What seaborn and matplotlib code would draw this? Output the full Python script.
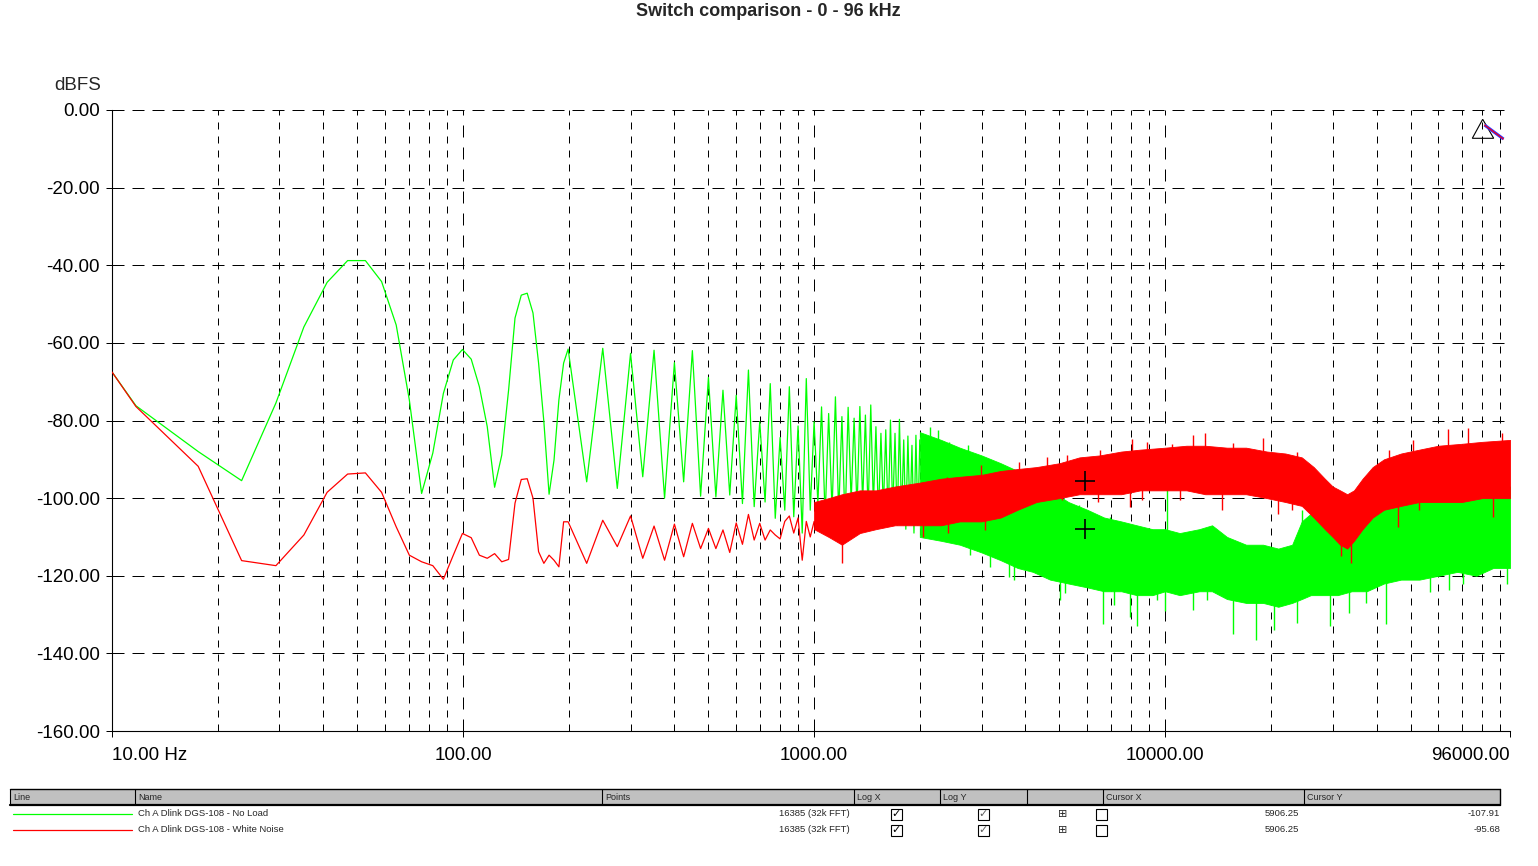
import numpy as np
import pandas as pd
import matplotlib
matplotlib.use("Agg")
import matplotlib.pyplot as plt
from matplotlib.patches import Rectangle, Polygon
from matplotlib.ticker import FixedLocator, NullFormatter
import seaborn as sns

# values (Hz / dBFS)
green_freq = [10, 11.7, 17.6, 23.4, 29.3, 35.2, 41.0, 46.9, 52.7, 58.6, 64.5, 70.3,
              76.2, 82.0, 87.9, 93.8, 99.6, 105.5, 111.3, 117.2, 123.0, 128.9, 134.8,
              140.6, 146.5, 152.3, 158.2, 164.1, 169.9, 175.8, 181.6, 187.5, 193.4, 199.2,
              225, 250, 275, 300, 325, 350, 375, 400, 425, 450, 475, 500, 525, 550,
              575, 600, 625, 650, 675, 700, 725, 750, 775, 800, 825, 850, 875, 900,
              925, 950, 975, 1000, 1025, 1050, 1075, 1100, 1125, 1150, 1175, 1200,
              1225, 1250, 1275, 1300, 1325, 1350, 1375, 1400, 1425, 1450, 1475, 1500,
              1525, 1550, 1575, 1600, 1625, 1650, 1675, 1700, 1725, 1750, 1775, 1800,
              1825, 1850, 1875, 1900, 1925, 1950, 1975, 2000]
green_db = [-67.5, -76.2, -88.0, -95.5, -75.5, -55.9, -44.4, -38.8, -38.8, -44.2, -55.4, -74.7,
            -98.8, -88.4, -73.0, -64.4, -61.7, -64.2, -71.3, -81.6, -97.2, -88.9, -72.2,
            -53.6, -47.7, -47.2, -52.3, -65.2, -80.3, -99.0, -90.2, -74.7, -65.2, -61.6,
            -95.8, -61.4, -97.5, -62.7, -94.5, -61.9, -100.0, -65.1, -95.8, -62.0, -99.5, -68.9,
            -99.7, -72.2, -99.2, -73.5, -101.4, -67.0, -102.2, -80.3, -101.0, -70.5, -105.2, -84.4,
            -103.1, -71.3, -104.8, -81.4, -109.0, -69.2, -103.1, -80.3, -101.4, -76.5, -105.0, -78.2,
            -103.4, -73.9, -104.0, -79.0, -107.0, -76.6, -101.0, -79.4, -103.1, -76.4, -101.4, -78.6,
            -104.0, -76.0, -101.9, -81.6, -105.0, -83.3, -103.0, -82.4, -106.0, -79.9, -104.0, -83.3,
            -107.0, -79.7, -105.0, -85.0, -108.0, -84.0, -106.0, -86.4, -109.0, -83.8, -107.0, -85.0]

red_freq = [10, 11.7, 17.6, 23.4, 29.3, 35.2, 41.0, 46.9, 52.7, 58.6, 64.5, 70.3,
            76.2, 82.0, 87.9, 93.8, 99.6, 105.5, 111.3, 117.2, 123.0, 128.9, 134.8,
            140.6, 146.5, 152.3, 158.2, 164.1, 169.9, 175.8, 181.6, 187.5, 193.4, 199.2,
            225, 250, 275, 300, 325, 350, 375, 400, 425, 450, 475, 500, 525, 550,
            575, 600, 625, 650, 675, 700, 725, 750, 775, 800, 825, 850, 875, 900,
            925, 950, 975, 1000]
red_db = [-67.5, -76.4, -91.8, -116.1, -117.4, -109.5, -98.5, -93.8, -93.5, -98.5, -107.4, -114.7,
          -116.4, -117.4, -120.9, -114.7, -109.1, -110.2, -114.7, -115.5, -114.3, -116.4, -115.8,
          -101.3, -95.2, -95.0, -100.0, -113.8, -116.8, -114.7, -116.0, -117.7, -106.1, -106.1,
          -116.8, -105.7, -112.5, -104.6, -115.5, -107.2, -116.0, -106.7, -115.1, -106.5, -113.0, -107.8,
          -113.0, -108.2, -114.0, -106.4, -111.9, -104.2, -110.8, -106.5, -110.8, -108.2, -109.5, -110.5,
          -106.0, -104.6, -109.0, -105.1, -116.0, -106.0, -110.0, -106.0]

# dense noise region: lower / upper envelope of the solid part
green_band_freq = [2000, 2300, 2600, 3000, 3400, 3800, 4200, 4700, 5300, 6000, 6700, 7500, 8300,
                   9200, 10000, 11000, 12500, 13600, 15000, 17000, 19000, 21000, 23000, 24500,
                   26000, 28000, 31000, 34000, 37500, 42000, 47000, 53000, 60000, 68000, 77000,
                   86000, 96000]
green_band_lo = [-110, -111, -112, -114, -116, -118, -119, -121, -122, -123, -124, -124, -125,
                 -125, -124, -125, -124, -124, -126, -127, -127, -128, -127, -126,
                 -125, -125, -125, -124, -124, -122, -121, -121, -120, -119, -120,
                 -118, -118]
green_band_hi = [-83, -85, -87, -89, -91, -93, -95, -98, -101, -103, -105, -106, -107,
                 -108, -108, -109, -108, -107, -110, -112, -112, -113, -112, -106,
                 -104, -105, -106, -104, -103, -102, -101, -100, -99, -99, -98,
                 -97, -97]

red_band_freq = [1000, 1100, 1200, 1350, 1500, 1700, 2000, 2300, 2600, 3000, 3400, 3800, 4300,
                 5000, 5700, 6500, 7500, 8500, 10000, 11500, 13000, 15000, 17000, 19500, 22000,
                 24500, 26500, 28500, 30000, 31500, 33000, 34500, 36500, 39000, 42000, 47000,
                 53000, 60000, 70000, 80000, 96000]
red_band_lo = [-108, -110, -112, -109, -108, -107, -107, -107, -106, -106, -105, -103, -101,
               -100, -99, -99, -99, -98, -98, -98, -99, -99, -99, -100, -101,
               -102, -105, -108, -110, -112, -113, -111, -108, -105, -103, -102,
               -101, -101, -101, -100, -100]
red_band_hi = [-101, -100, -99, -98, -98, -97, -96, -95, -94.5, -94, -93, -92.5, -92,
               -91, -89.5, -89, -88, -87.5, -87, -86.5, -86.5, -87, -87, -88, -88.5,
               -89.5, -92, -95, -97, -98, -99, -98, -95, -92, -90, -88.5,
               -87.5, -86.5, -86, -85.5, -85]

# single spikes sticking out of the bands (freq, base, tip)
green_spike_freq = [2140, 2250, 2420, 2750, 2780, 2990, 3160, 3330, 3600, 3700, 3780, 4370,
                    5020, 5200, 5680, 6670, 6950, 7130, 7950, 8340, 8860, 9460, 10000, 10100,
                    12040, 13200, 13600, 15600, 18200, 20400, 23700, 24500, 27800, 29400,
                    33300, 37300, 40000, 42500, 55400, 56900, 64300, 68000, 70500, 86000, 94000]
green_spike_from = [-105, -105, -106, -108, -100, -105, -105, -108, -108, -110, -110, -112,
                    -115, -115, -115, -118, -118, -118, -118, -118, -118, -118, -118, -115,
                    -118, -118, -118, -120, -120, -120, -120, -115, -115, -118,
                    -118, -115, -112, -115, -110, -112, -110, -108, -110, -108, -108]
green_spike_to = [-81.6, -82.4, -85.5, -86.3, -114.7, -90.6, -117.7, -92.4, -120.3, -121.1, -96.0, -98.4,
                  -126.3, -124.5, -101.8, -132.5, -104.8, -127.6, -130.6, -133.0, -108.7, -126.3, -129.0, -96.0,
                  -128.9, -126.3, -107.4, -135.0, -136.6, -134.0, -132.3, -103.1, -103.9, -133.0,
                  -129.7, -127.1, -103.9, -132.5, -99.3, -124.1, -123.7, -97.5, -122.0, -96.6, -122.0]

red_spike_freq = [1200, 2040, 2390, 2410, 2990, 3070, 3840, 4600, 5070, 5260, 6440, 6520,
                  7930, 8070, 8600, 8860, 10480, 11000, 12000, 13000, 14500, 15600, 19000,
                  21000, 23000, 23700, 31600, 33900, 43500, 46000, 50900, 53000, 64000, 73000,
                  86000, 91000]
red_spike_from = [-108, -102, -100, -102, -100, -100, -97, -95, -95, -95, -94, -94,
                  -93, -93, -93, -93, -92, -92, -92, -92, -92, -92, -93,
                  -94, -94, -94, -105, -105, -95, -95, -94, -94, -93, -93,
                  -93, -92]
red_spike_to = [-116.8, -110.0, -94.5, -109.0, -91.5, -108.2, -90.6, -89.4, -100.5, -89.0, -101.0, -87.6,
                -102.2, -84.8, -100.5, -85.5, -86.0, -100.5, -83.8, -83.3, -103.0, -85.9, -84.6,
                -104.0, -103.0, -88.0, -115.0, -116.8, -87.6, -107.4, -85.1, -103.1, -82.2, -82.0,
                -104.8, -83.3]

cursor_x = 5906.25
cursor_y = [-107.91, -95.68]

series_names = ["Ch A Dlink DGS-108 - No Load", "Ch A Dlink DGS-108 - White Noise"]
points_text = ["16385 (32k FFT)", "16385 (32k FFT)"]
header_names = ["Line", "Name", "Points", "Log X", "Log Y", "", "Cursor X", "Cursor Y"]

x_ticks = [10, 100, 1000, 10000, 96000]
x_labels = ["10.00 Hz", "100.00", "1000.00", "10000.00", "96000.00"]
y_ticks = [0, -20, -40, -60, -80, -100, -120, -140, -160]
y_labels = ["0.00", "-20.00", "-40.00", "-60.00", "-80.00", "-100.00", "-120.00", "-140.00", "-160.00"]

GREEN = "#00ff00"
RED = "#ff0000"

sns.set_style("white")
plt.rcParams["font.family"] = ["Liberation Sans", "DejaVu Sans"]

fig = plt.figure(figsize=(15.38, 8.66), dpi=100)
ax = fig.add_axes([112 / 1538, 135 / 866, 1398 / 1538, 621 / 866])
ax.set_xscale("log")
ax.set_xlim(10, 96000)
ax.set_ylim(-160, 0)

# green first, red on top
sns.lineplot(x=green_freq, y=green_db, color=GREEN, lw=0.9, sort=False, estimator=None, ax=ax, zorder=2)
ax.fill_between(green_band_freq, green_band_lo, green_band_hi, color=GREEN, lw=0.6, zorder=2)
ax.vlines(green_spike_freq, green_spike_from, green_spike_to, color=GREEN, lw=1.0, zorder=2)

sns.lineplot(x=red_freq, y=red_db, color=RED, lw=0.9, sort=False, estimator=None, ax=ax, zorder=3)
ax.fill_between(red_band_freq, red_band_lo, red_band_hi, color=RED, lw=0.6, zorder=3)
ax.vlines(red_spike_freq, red_spike_from, red_spike_to, color=RED, lw=1.0, zorder=3)

ax.plot([cursor_x] * 2, cursor_y, ls="none", marker="+", ms=14, mew=1.2, color="black", zorder=5)

# axes, ticks, grid
ax.xaxis.set_major_locator(FixedLocator(x_ticks))
ax.set_xticklabels(x_labels)
ax.xaxis.set_minor_locator(FixedLocator([m * d for d in [10, 100, 1000, 10000] for m in range(2, 10)]))
ax.xaxis.set_minor_formatter(NullFormatter())
ax.set_yticks(y_ticks)
ax.set_yticklabels(y_labels)
lbls = ax.get_xticklabels()
lbls[0].set_ha("left")
lbls[-1].set_ha("right")
ax.tick_params(axis="both", which="major", labelsize=13.5, colors="black", length=4.3, width=0.72, pad=4.3)
ax.tick_params(axis="x", which="major", pad=7)
ax.tick_params(axis="x", which="minor", length=0)
ax.tick_params(axis="x", which="major", bottom=True)
ax.tick_params(axis="y", which="major", left=True)

ax.set_axisbelow(True)
ax.grid(False)
ax.grid(True, which="major", axis="y", color="black", lw=0.72, ls=(0, (12, 8)))
ax.grid(True, which="major", axis="x", color="black", lw=0.72, ls=(0, (12, 10)))
ax.grid(True, which="minor", axis="x", color="black", lw=0.72, ls=(0, (7, 7)))
for s in ["top", "right"]:
    ax.spines[s].set_visible(False)
for s in ["left", "bottom"]:
    ax.spines[s].set_color("black")
    ax.spines[s].set_linewidth(0.8)
ax.set_xlabel("")
ax.set_ylabel("")

# overlay in pixel coordinates for title, unit label and the series table
ov = fig.add_axes([0, 0, 1, 1], zorder=6)
ov.set_xlim(0, 1538)
ov.set_ylim(866, 0)
ov.axis("off")
ov.patch.set_alpha(0)

ov.text(768, 12, "Switch comparison - 0 - 96 kHz", ha="center", va="center", fontsize=13, fontweight="bold")
ov.text(101, 86, "dBFS", ha="right", va="center", fontsize=13.5)

# small cursor marker at the top right
ov.add_patch(Polygon([[1482.7, 119.3], [1472.3, 138.3], [1493.7, 138.3]], closed=True,
                     fill=False, ec="black", lw=0.8))
ov.plot([1484.5, 1503.5], [125, 139], color="#3030ff", lw=2.2, solid_capstyle="butt")
ov.plot([1484.5, 1503.5], [125, 139], color=RED, lw=0.8)

# table header
col_edges = [10, 135, 602, 854, 940, 1027, 1103, 1304]
ov.add_patch(Rectangle((10, 789), 1490, 15, fc="#c0c0c0", ec="none"))
ov.plot([10, 1500], [789, 789], color="black", lw=1.0)
ov.plot([10, 1500], [804.5, 804.5], color="black", lw=1.6)
ov.plot([1500, 1500], [789, 805], color="black", lw=1.0)
for xe, name in zip(col_edges, header_names):
    ov.plot([xe, xe], [789, 805], color="black", lw=0.8)
    ov.text(xe + 3, 797, name, ha="left", va="center", fontsize=6.5)

row_y = [814, 830]
row_colors = [GREEN, RED]
for yy, col, nm, pts, cy in zip(row_y, row_colors, series_names, points_text, cursor_y):
    ov.plot([13, 132], [yy, yy], color=col, lw=0.9)
    ov.text(138, yy, nm, ha="left", va="center", fontsize=6.8)
    ov.text(850, yy, pts, ha="right", va="center", fontsize=6.8)
    for cx, mark, mcol in [(896, "\u2713", "black"), (983, "\u2713", "#606060")]:
        ov.add_patch(Rectangle((cx - 5.5, yy - 5.5), 11, 11, fc="white", ec="black", lw=0.8))
        ov.text(cx, yy + 0.5, mark, ha="center", va="center", fontsize=8, color=mcol,
                family=["DejaVu Sans"], fontweight="bold")
    ov.text(1063, yy, "\u229e", ha="center", va="center", fontsize=8, family=["DejaVu Sans"])
    ov.add_patch(Rectangle((1095.5, yy - 5.5), 11, 11, fc="white", ec="black", lw=0.8))
    ov.text(1299, yy, f"{cursor_x:.2f}", ha="right", va="center", fontsize=6.8)
    ov.text(1500, yy, f"{cy:.2f}", ha="right", va="center", fontsize=6.8)

fig.savefig("out.png", dpi=100)
